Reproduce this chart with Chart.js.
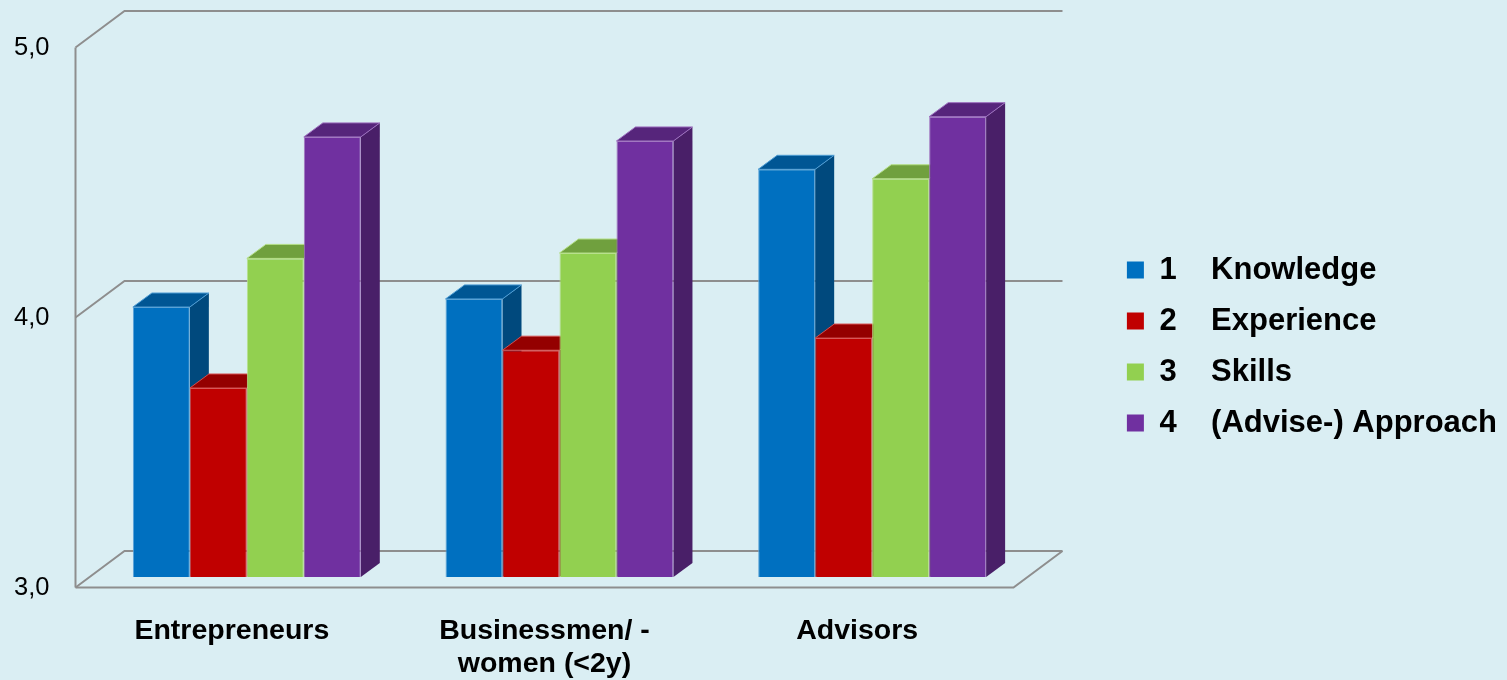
<!DOCTYPE html>
<html>
<head>
<meta charset="utf-8">
<script src="https://cdn.jsdelivr.net/npm/chart.js@4.4.1/dist/chart.umd.min.js"></script>
<style>
  html, body { margin: 0; padding: 0; background: #DAEEF3; }
  #wrap { width: 1507px; height: 680px; position: relative; }
</style>
</head>
<body>
<div id="wrap"><canvas id="c"></canvas></div>
<script>
// ---- data ----
const categories = ['Entrepreneurs', ['Businessmen/ -', 'women (<2y)'], 'Advisors'];
const seriesNumbers = ['1', '2', '3', '4'];
const seriesNames = ['Knowledge', 'Experience', 'Skills', '(Advise-) Approach'];
const knowledge  = [4.00, 4.03, 4.51];
const experience = [3.70, 3.84, 3.885];
const skills     = [4.18, 4.20, 4.475];
const approach   = [4.63, 4.615, 4.705];
const yTicks = [3, 4, 5];
const yTickLabels = ['3,0', '4,0', '5,0'];

// ---- styles ----
const seriesColors = ['#0070C0', '#C00000', '#92D050', '#7030A0'];
const FONT = "'Liberation Sans', Arial, sans-serif";
const GRID = '#8E8E8E';
const DEPTH = { dx: 19, dy: -14 };            // bar depth
const FRONT = { dx: -15, dy: 10.5 };          // front plane of the box
const BACK  = { dx: 34, dy: -26 };            // back wall

function shade(hex, f) {
  const n = parseInt(hex.slice(1), 16);
  const r = Math.round(((n >> 16) & 255) * f), g = Math.round(((n >> 8) & 255) * f), b = Math.round((n & 255) * f);
  return `rgb(${r},${g},${b})`;
}
function lighten(hex, f) {
  const n = parseInt(hex.slice(1), 16);
  const c = [(n >> 16) & 255, (n >> 8) & 255, n & 255].map(v => Math.round(v + (255 - v) * f));
  return `rgb(${c[0]},${c[1]},${c[2]})`;
}

const values = [knowledge, experience, skills, approach];
const datasets = values.map((vals, i) => ({
  label: seriesNumbers[i] + '    ' + seriesNames[i],
  data: vals,
  backgroundColor: seriesColors[i],
  borderColor: lighten(seriesColors[i], 0.35),
  borderWidth: 1,
  borderSkipped: 'bottom'
}));

const bar3d = {
  id: 'bar3d',
  beforeDatasetsDraw(chart) {
    const { ctx, chartArea: { left, right }, scales: { y } } = chart;
    ctx.save();
    ctx.strokeStyle = GRID;
    ctx.lineWidth = 2;
    ctx.lineCap = 'butt';
    const y3 = y.getPixelForValue(yTicks[0]);
    const yTop = y.getPixelForValue(yTicks[yTicks.length - 1]);
    // front left vertical axis
    ctx.beginPath();
    ctx.moveTo(left + FRONT.dx, yTop + FRONT.dy);
    ctx.lineTo(left + FRONT.dx, y3 + FRONT.dy);
    ctx.stroke();
    // gridlines: left wall diagonal + back wall line
    yTicks.forEach(v => {
      const py = y.getPixelForValue(v);
      ctx.beginPath();
      ctx.moveTo(left + FRONT.dx, py + FRONT.dy);
      ctx.lineTo(left + BACK.dx, py + BACK.dy);
      ctx.lineTo(right + BACK.dx, py + BACK.dy);
      ctx.stroke();
    });
    // floor front edge and right diagonal
    ctx.beginPath();
    ctx.moveTo(left + FRONT.dx, y3 + FRONT.dy);
    ctx.lineTo(right + FRONT.dx, y3 + FRONT.dy);
    ctx.lineTo(right + BACK.dx, y3 + BACK.dy);
    ctx.stroke();
    ctx.restore();

    // 3D faces (top and side) of bars, drawn before the fronts
    ctx.save();
    const n = chart.data.labels.length;
    for (let j = 0; j < n; j++) {
      chart.data.datasets.forEach((ds, i) => {
        const el = chart.getDatasetMeta(i).data[j];
        if (!el) return;
        const p = el.getProps(['x', 'y', 'base', 'width'], true);
        const l = p.x - p.width / 2, r = p.x + p.width / 2, t = p.y, b = Math.min(p.base, y3);
        const col = seriesColors[i];
        // side
        ctx.fillStyle = shade(col, 0.65);
        ctx.beginPath();
        ctx.moveTo(r, t); ctx.lineTo(r + DEPTH.dx, t + DEPTH.dy);
        ctx.lineTo(r + DEPTH.dx, b + DEPTH.dy); ctx.lineTo(r, b);
        ctx.closePath(); ctx.fill();
        // top
        ctx.fillStyle = shade(col, 0.77);
        ctx.beginPath();
        ctx.moveTo(l, t); ctx.lineTo(l + DEPTH.dx, t + DEPTH.dy);
        ctx.lineTo(r + DEPTH.dx, t + DEPTH.dy); ctx.lineTo(r, t);
        ctx.closePath(); ctx.fill();
        ctx.strokeStyle = lighten(col, 0.3);
        ctx.lineWidth = 1;
        ctx.stroke();
      });
    }
    ctx.restore();
  }
};

new Chart(document.getElementById('c'), {
  type: 'bar',
  data: { labels: categories, datasets },
  options: {
    responsive: true,
    maintainAspectRatio: false,
    animation: false,
    devicePixelRatio: 1,
    layout: { padding: { top: 37, right: 0, bottom: 0, left: 14 } },
    datasets: { bar: { barPercentage: 1, categoryPercentage: 0.729 } },
    scales: {
      x: {
        grid: { display: false, drawTicks: false },
        border: { display: false },
        ticks: {
          color: '#000',
          font: { family: FONT, size: 28.5, weight: 'bold', lineHeight: 1.15 },
          padding: 38,
          labelOffset: -15,
          maxRotation: 0,
          autoSkip: false
        },
        afterFit(s) { s.height = 103; }
      },
      y: {
        min: 3, max: 5,
        grid: { display: false, drawTicks: false },
        border: { display: false },
        ticks: {
          stepSize: 1,
          color: '#000',
          font: { family: FONT, size: 25.5 },
          padding: 0,
          crossAlign: 'far',
          labelOffset: 10.5,
          callback: (v) => { const k = yTicks.indexOf(v); return k >= 0 ? yTickLabels[k] : ''; }
        },
        afterFit(s) { s.width = 76.5; }
      },
      gap: {
        position: 'right',
        display: true,
        grid: { display: false, drawTicks: false },
        border: { display: false },
        ticks: { display: false },
        afterFit(s) { s.width = 78.4; }
      }
    },
    plugins: {
      tooltip: { enabled: false },
      legend: {
        position: 'right',
        align: 'start',
        maxWidth: 600,
        title: { display: true, text: ' ', font: { size: 10, lineHeight: 1.2 }, padding: { top: 0, bottom: 185.5 } },
        labels: {
          color: '#000',
          font: { family: FONT, size: 31, weight: 'bold' },
          boxWidth: 17,
          boxHeight: 17,
          padding: 20,
          sort: (a, b) => a.datasetIndex - b.datasetIndex,
          generateLabels(chart) {
            const items = Chart.defaults.plugins.legend.labels.generateLabels(chart);
            items.forEach(it => { it.lineWidth = 0; it.strokeStyle = 'rgba(0,0,0,0)'; });
            return items;
          }
        }
      }
    }
  },
  plugins: [bar3d]
});
</script>
</body>
</html>
